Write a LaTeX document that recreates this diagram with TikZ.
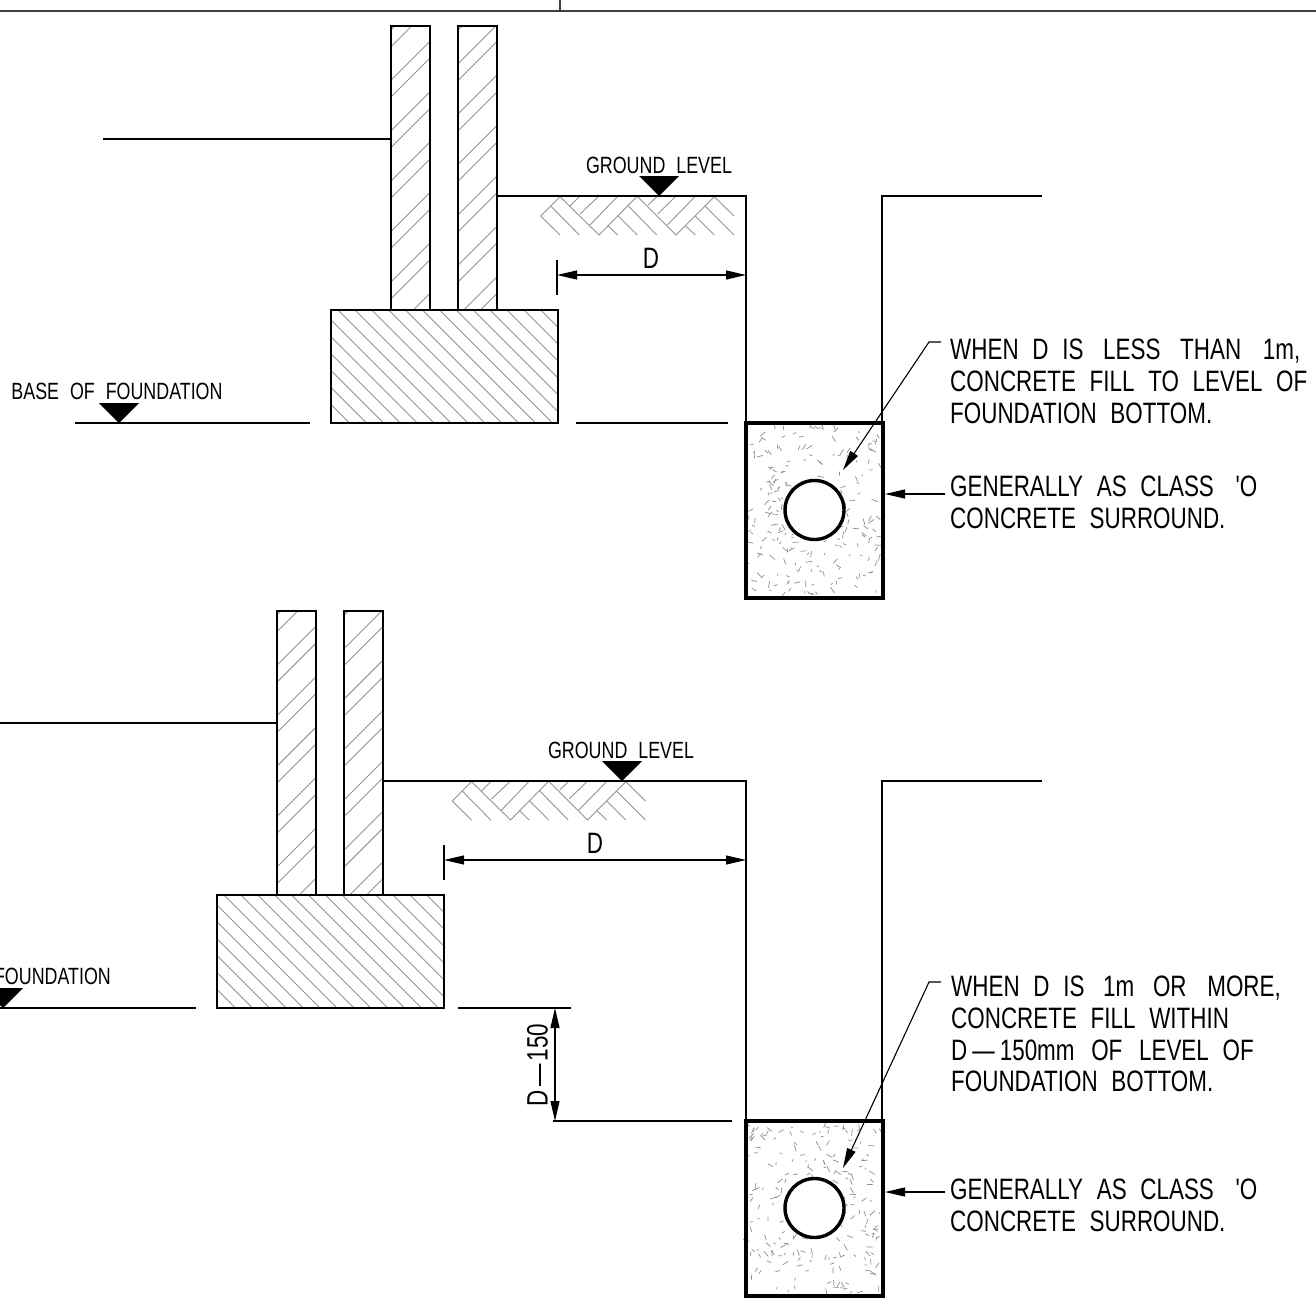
\documentclass[tikz,border=0pt]{standalone}
\usepackage{fontspec}
\usetikzlibrary{arrows.meta}
\newfontfamily\cadfont[WordSpace=2.2,FakeStretch=0.76]{Liberation Sans}
\tikzset{
  outline/.style={line width=1.7pt},
  thin line/.style={line width=1.2pt},
  hatch/.style={line width=0.9pt,black!42},
  heavy/.style={line width=3.6pt,line join=miter},
  tip/.style={-{Triangle[length=20pt,width=9pt]},line width=1.1pt},
  both tips/.style={{Triangle[length=20pt,width=9pt]}-{Triangle[length=20pt,width=9pt]},line width=1.1pt},
  note/.style={font=\cadfont\fontsize{29.5}{31.7}\selectfont,align=left,anchor=north west,inner sep=0pt},
  level/.style={font=\cadfont\fontsize{23.5}{24}\selectfont,inner sep=0pt},
  dimtxt/.style={font=\cadfont\fontsize{29.5}{24}\selectfont,inner sep=0pt},
  marker/.style={fill=black,draw=none},
}
% herringbone under the ground line
\newcommand{\groundhatch}{
\draw[hatch] (560,196.7) -- (540.7,216) -- (560,235)
  (550.7,206) -- (579.3,235) (560,196.7) -- (599,235) -- (636.7,196.7)
  (570,206) -- (579.3,196.7) (580,214) -- (598.3,196.7) (590,225) -- (617.3,196.7)
  (608.3,226) -- (617.7,235) (618.3,216) -- (637.3,235) (628.3,206) -- (656.7,235)
  (637.7,196.7) -- (676,235) -- (714.3,196.7)
  (648.3,205) -- (656.7,196.7) (657.7,214) -- (675.3,196.7) (667.3,225) -- (695,196.7)
  (685.7,226) -- (695.3,235) (695.3,216) -- (714.3,235) (705,206) -- (734,235)
  (714.3,196.7) -- (734,216);
}
% two skins on a strip footing
\newcommand{\footing}{
\begin{scope}
\clip (391,26) rectangle (430,310) (458,26) rectangle (497,310);
\foreach \k in {-2,...,22} {
  \pgfmathtruncatemacro{\keep}{mod(\k+30,3)}
  \ifnum\keep=1 \else
    \draw[hatch] (380,57.7+16.8*\k) -- (510,-72.3+16.8*\k);
  \fi
}
\end{scope}
\begin{scope}
\clip (331,310) rectangle (558,423);
\foreach \k in {-13,...,8}
  \draw[hatch] (320,292+16.9*\k) -- (570,542+16.9*\k);
\end{scope}
\draw[outline] (391,26) rectangle (430,310);
\draw[outline] (458,26) rectangle (497,310);
\draw[outline] (331,310) rectangle (558,423);
}
% concrete surround with the pipe, top left corner given
\newcommand{\surround}[2]{
\begin{scope}[shift={(#1,#2)}]
\pgfmathsetseed{#2}
\foreach \i in {1,...,230} {
  \pgfmathsetmacro{\px}{3+131*rnd}
  \pgfmathsetmacro{\py}{3+169*rnd}
  \pgfmathsetmacro{\pa}{360*rnd}
  \pgfmathsetmacro{\pl}{2+5*rnd}
  \draw[line width=0.7pt,black!45] (\px,\py) -- ++(\pa:\pl);
}
\draw[heavy] (0,0) rectangle (137,175);
\draw[line width=3.4pt,fill=white] (68.5,87) circle (29.5pt);
\end{scope}
}
\begin{document}
\begin{tikzpicture}[x=1pt,y=-1pt]
\useasboundingbox (0,0) rectangle (1316,1306);

% title strip
\draw[line width=1.8pt,black!75] (0,11) -- (1316,11);
\draw[line width=1.2pt,black!75] (560,0) -- (560,11);

% upper detail
\footing
\groundhatch
\coordinate (wallA) at (391,139);
\coordinate (wallAend) at (103,139);
\coordinate (groundA) at (497,196);
\coordinate (cornerA) at (746,196);
\coordinate (trenchA) at (746,423);
\coordinate (trenchB) at (882,423);
\coordinate (cornerB) at (882,196);
\coordinate (groundB) at (1042,196);
\draw[thin line] (wallAend) -- (wallA);
\draw[outline] (groundA) -- (cornerA) -- (trenchA);
\draw[outline] (trenchB) -- (cornerB) -- (groundB);
\draw[outline] (75,423) -- (310,423);
\draw[outline] (576,423) -- (728,423);
\node[level] (groundtxtA) at (659,165) {GROUND LEVEL};
\fill[marker] (639,176) -- (679,176) -- (659,196) -- cycle;
\node[level] (basetxtA) at (117,391) {BASE OF FOUNDATION};
\fill[marker] (99,403) -- (139,403) -- (119,423) -- cycle;
\coordinate (dimA) at (557,275);
\coordinate (dimB) at (746,275);
\draw[thin line] (557,260) -- (557,295);
\draw[both tips] (dimA) -- (dimB);
\node[dimtxt] (dtxtA) at (651,258) {D};
\surround{746}{423}
\node[note] (noteA) at (950,339) {WHEN D IS\kern6pt{} LESS\kern6pt{} THAN\kern8pt{} 1m,\\CONCRETE FILL TO LEVEL OF\\FOUNDATION BOTTOM.};
\coordinate (leadA) at (941,342);
\coordinate (kneeA) at (929,342);
\coordinate (pointA) at (843,470);
\draw[tip] (leadA) -- (kneeA) -- (pointA);
\node[note] (classA) at (950,476) {GENERALLY AS CLASS\kern8pt{} 'O\\CONCRETE SURROUND.};
\coordinate (leadB) at (945,494);
\coordinate (pointB) at (885,494);
\draw[tip] (leadB) -- (pointB);

% lower detail
\begin{scope}[shift={(-114,585)}]
\footing
\end{scope}
\begin{scope}[shift={(-88.5,585)}]
\groundhatch
\end{scope}
\coordinate (wallC) at (277,723);
\coordinate (wallCend) at (0,723);
\coordinate (groundC) at (384,781);
\coordinate (cornerC) at (746,781);
\coordinate (trenchC) at (746,1121);
\coordinate (trenchD) at (882,1121);
\coordinate (cornerD) at (882,781);
\coordinate (groundD) at (1042,781);
\draw[thin line] (wallCend) -- (wallC);
\draw[outline] (groundC) -- (cornerC) -- (trenchC);
\draw[outline] (trenchD) -- (cornerD) -- (groundD);
\draw[outline] (0,1008) -- (196,1008);
\draw[thin line] (458,1008) -- (571,1008);
\draw[outline] (553,1121) -- (732,1121);
\node[level] (groundtxtC) at (621,750) {GROUND LEVEL};
\fill[marker] (602,761) -- (642,761) -- (622,781) -- cycle;
\node[level,anchor=east] (basetxtC) at (111,976) {FOUNDATION};
\fill[marker] (-17,988) -- (23,988) -- (3,1008) -- cycle;
\coordinate (dimC) at (444,860);
\coordinate (dimD) at (746,860);
\draw[thin line] (444,845) -- (444,880);
\draw[both tips] (dimC) -- (dimD);
\node[dimtxt] (dtxtC) at (595,843) {D};
\coordinate (dimE) at (555,1008);
\coordinate (dimF) at (555,1121);
\draw[both tips] (dimE) -- (dimF);
\node[dimtxt,rotate=90] (dtxtE) at (537.5,1065) {D\kern3pt{}—\kern3pt{}150};
\surround{746}{1121}
\node[note] (noteC) at (951,976) {WHEN D IS\kern5pt{} 1m\kern5pt{} OR\kern7pt{} MORE,\\CONCRETE FILL WITHIN\\D\kern5pt{}—\kern5pt{}150mm\kern3pt{} OF\kern3pt{} LEVEL OF\\FOUNDATION BOTTOM.};
\coordinate (leadC) at (941,982);
\coordinate (kneeC) at (929,982);
\coordinate (pointC) at (843,1168);
\draw[tip] (leadC) -- (kneeC) -- (pointC);
\node[note] (classC) at (950,1179) {GENERALLY AS CLASS\kern8pt{} 'O\\CONCRETE SURROUND.};
\coordinate (leadD) at (945,1192);
\coordinate (pointD) at (885,1192);
\draw[tip] (leadD) -- (pointD);
\end{tikzpicture}
\end{document}
